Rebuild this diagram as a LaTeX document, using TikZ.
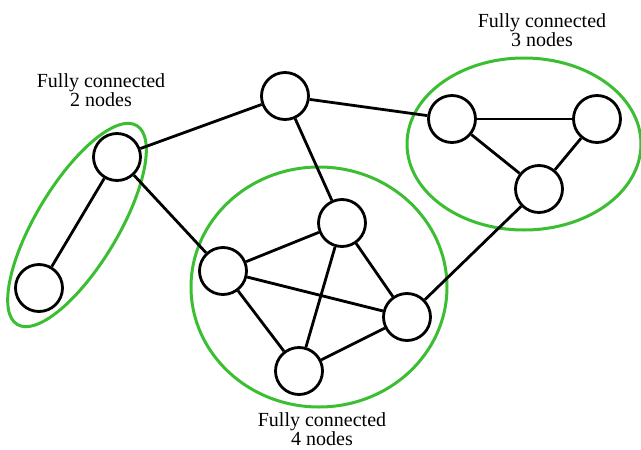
\documentclass[tikz,border=0pt]{standalone}
\usepackage{fontspec}
\setmainfont{Liberation Serif}
\usepackage{xcolor}
\definecolor{grpgreen}{RGB}{60,190,50}
\usepackage{tikz}
\usetikzlibrary{positioning}

\begin{document}
\begin{tikzpicture}[x=1pt,y=-1pt,
  vertex/.style={circle,draw,line width=2.8pt,minimum size=47pt,inner sep=0pt},
  link/.style={line width=2.8pt},
  group/.style={draw=grpgreen,line width=3pt},
  caption/.style={align=center,inner sep=0pt,font=\fontsize{20}{19.5}\selectfont}]
\useasboundingbox (0,0) rectangle (641,450);

% groups
\draw[group,rotate around={59:(77,225)}] (77,225) ellipse [x radius=116,y radius=41];
\draw[group] (524,144) ellipse [x radius=117,y radius=86];
\draw[group] (319,287) ellipse [x radius=128,y radius=120];

% nodes
\node[vertex] (top) at (285,96) {};
\node[vertex] (p1) at (117,157) {};
\node[vertex] (p2) at (39,288) {};
\node[vertex] (t1) at (452,119) {};
\node[vertex] (t2) at (597,119) {};
\node[vertex] (t3) at (539,189) {};
\node[vertex] (q1) at (342,223) {};
\node[vertex] (q2) at (223,271) {};
\node[vertex] (q3) at (407,317) {};
\node[vertex] (q4) at (299,371) {};

% links
\draw[link] (p1) -- (p2);
\draw[link] (p1) -- (top);
\draw[link] (p1) -- (q2);
\draw[link] (top) -- (t1);
\draw[link] (top) -- (q1);
\draw[link] (t1) -- (t2);
\draw[link] (t1) -- (t3);
\draw[link] (t2) -- (t3);
\draw[link] (t3) -- (q3);
\draw[link] (q1) -- (q2);
\draw[link] (q1) -- (q3);
\draw[link] (q1) -- (q4);
\draw[link] (q2) -- (q3);
\draw[link] (q2) -- (q4);
\draw[link] (q3) -- (q4);

% captions
\node[caption] (cap2) at (101,90) {Fully connected\\2 nodes};
\node[caption] (cap3) at (542,30) {Fully connected\\3 nodes};
\node[caption] (cap4) at (322,429) {Fully connected\\4 nodes};
\end{tikzpicture}
\end{document}
